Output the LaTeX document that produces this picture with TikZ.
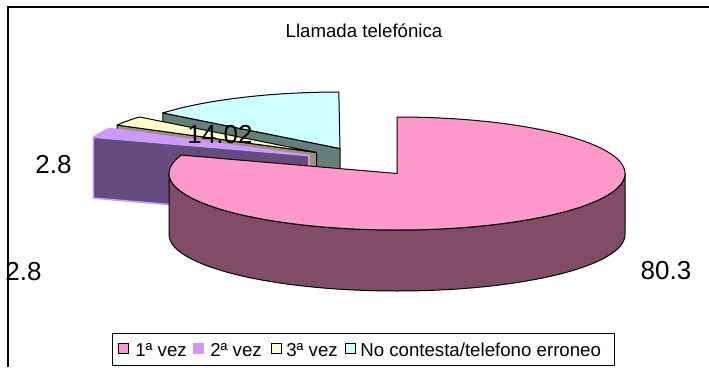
\documentclass[tikz,border=0pt]{standalone}
\usepackage{fontspec}
\setmainfont{Liberation Sans}
\usetikzlibrary{calc}

\definecolor{pinktop}{HTML}{FF99CC}
\definecolor{pinkside}{HTML}{804C66}
\definecolor{lilactop}{HTML}{CC99FF}
\definecolor{lilacside}{HTML}{634C80}
\definecolor{creamtop}{HTML}{FFFFCC}
\definecolor{creamside}{HTML}{9C9670}
\definecolor{aquatop}{HTML}{CCFFFF}
\definecolor{aquaside}{HTML}{65807B}

\tikzset{
  slice/.style={draw=black, line width=0.75pt, line join=round},
  vallabel/.style={anchor=base, inner sep=0pt, font=\fontsize{19.5}{22}\selectfont},
  keybox/.style={draw=black, line width=0.75pt, minimum size=7.5pt, inner sep=0pt},
  keytext/.style={anchor=base west, inner sep=0pt, font=\fontsize{14}{16}\selectfont},
}

\begin{document}
\begin{tikzpicture}[x=0.75pt, y=0.75pt]
\useasboundingbox (0,0) rectangle (709,-367);
% frame
\draw[line width=1.1pt] (8,-367) -- (8,-7) -- (709,-7);
\node[anchor=base, inner sep=0pt, font=\fontsize{14}{16}\selectfont] (title) at (364,-37.7) {Llamada telefónica};

% slice centres
\coordinate (c1) at (397,-173.5);
\coordinate (c2) at (309,-155.5);
\coordinate (c3) at (316.5,-152.5);
\coordinate (c4) at (340,-148.5);

% No contesta
\filldraw[slice, fill=aquaside] (c4) -- ++(141:228 and 56.5) -- ++(0,-61) -- ($(c4)+(0,-61)$) -- cycle;
\filldraw[slice, fill=aquatop] (c4) -- ++(90.3:228 and 56.5)
  arc[start angle=90.3, end angle=141, x radius=228, y radius=56.5] -- cycle;

% 3a vez
\filldraw[slice, fill=creamside] (c3) -- ++(151:228 and 56.5) -- ++(0,-61) -- ($(c3)+(0,-61)$) -- cycle;
\filldraw[slice, fill=creamtop] (c3) -- ++(141:228 and 56.5)
  arc[start angle=141, end angle=151, x radius=228, y radius=56.5] -- cycle;

% 2a vez
\filldraw[slice, draw=lilactop, line width=1.2pt, fill=lilacside] (c2) -- ++(161:228 and 56.5) -- ++(0,-61) -- ($(c2)+(0,-61)$) -- cycle;
\filldraw[slice, draw=lilactop, fill=lilactop] (c2) -- ++(151:228 and 56.5)
  arc[start angle=151, end angle=161, x radius=228, y radius=56.5] -- cycle;

% 1a vez
\filldraw[slice, fill=pinkside] ($(c1)+(-228,0)$) -- ++(0,-61)
  arc[start angle=180, end angle=360, x radius=228, y radius=56.5] -- ++(0,61)
  arc[start angle=0, end angle=-180, x radius=228, y radius=56.5] -- cycle;
\filldraw[slice, fill=pinktop] (c1) -- ++(0,56.5)
  arc[start angle=90, end angle=-199, x radius=228, y radius=56.5] -- cycle;

% values
\node[vallabel] (v1) at (666,-279.3) {80.3};
\node[vallabel] (v2) at (23.5,-280) {2.8};
\node[vallabel] (v3) at (53.5,-173) {2.8};
\node[vallabel] (v4) at (220,-143) {14.02};

% legend
\draw[line width=0.75pt] (112,-333) rectangle (614,-365);
\node[keybox, fill=pinktop] (k1) at (123,-348.5) {};
\node[keybox, fill=lilactop, draw=lilactop] (k2) at (198.5,-348.5) {};
\node[keybox, fill=creamtop] (k3) at (276,-348.5) {};
\node[keybox, fill=aquatop] (k4) at (350,-348.5) {};
\node[keytext] (t1) at (135,-356.5) {1ª vez};
\node[keytext] (t2) at (210,-356.5) {2ª vez};
\node[keytext] (t3) at (286,-356.5) {3ª vez};
\node[keytext] (t4) at (360,-356.5) {No contesta/telefono erroneo};
\end{tikzpicture}
\end{document}
